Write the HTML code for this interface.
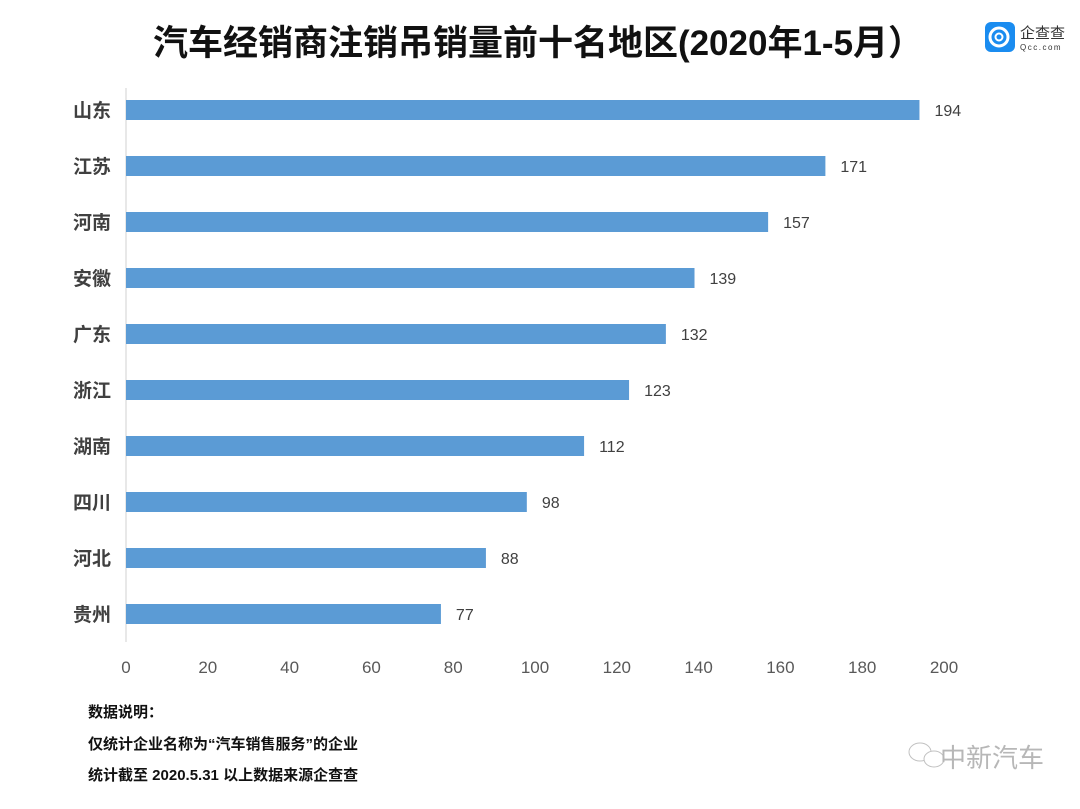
<!DOCTYPE html>
<html><head><meta charset="utf-8">
<style>
body{margin:0;background:#fff;width:1080px;height:804px;overflow:hidden;font-family:"Liberation Sans","Noto Sans CJK SC",sans-serif;}
svg text{font-family:"Liberation Sans","Noto Sans CJK SC",sans-serif;}
</style></head>
<body>
<svg id="chart" width="1080" height="804">
<text x="538" y="55" text-anchor="middle" font-size="35" font-weight="bold" fill="#111">汽车经销商注销吊销量前十名地区(2020年1-5月）</text>
<g>
<rect x="985" y="22" width="30" height="30" rx="6" fill="#1a8cf0"/>
<circle cx="999" cy="37" r="9" fill="none" stroke="#fff" stroke-width="3"/>
<circle cx="999" cy="37" r="3.5" fill="none" stroke="#fff" stroke-width="2"/>
<text x="1020" y="38" font-size="15" fill="#333">企查查</text>
<text x="1020" y="50" font-size="8" fill="#333" letter-spacing="1.5">Qcc.com</text>
</g>
<line x1="126" y1="88" x2="126" y2="642" stroke="#e0e0e0" stroke-width="1.5"/>
<g id="bars"></g>
<text x="88" y="717" font-size="15" font-weight="bold" fill="#111">数据说明：</text>
<text x="88" y="749" font-size="15" font-weight="bold" fill="#111">仅统计企业名称为“汽车销售服务”的企业</text>
<text x="88" y="780" font-size="15" font-weight="bold" fill="#111">统计截至 2020.5.31  以上数据来源企查查</text>
<g opacity="0.6">
<ellipse cx="920" cy="752" rx="11" ry="9" fill="none" stroke="#999"/>
<ellipse cx="934" cy="759" rx="10" ry="8" fill="#fff" stroke="#999"/>
<text x="940" y="767" font-size="26" fill="#888">中新汽车</text>
</g>
</svg>
<script>
const categories=["山东","江苏","河南","安徽","广东","浙江","湖南","四川","河北","贵州"];
const values=[194,171,157,139,132,123,112,98,88,77];
const ticks=[0,20,40,60,80,100,120,140,160,180,200];
const NS="http://www.w3.org/2000/svg";
const g=document.getElementById("bars");
const x0=126,x1=944,vmax=200;
function xs(v){return x0+(x1-x0)*v/vmax;}
function yc(i){return 110+56*i;}
function mk(t,a){const e=document.createElementNS(NS,t);for(const k in a)e.setAttribute(k,a[k]);g.appendChild(e);return e;}
categories.forEach((c,i)=>{
 const r=mk("rect",{x:x0,y:yc(i)-10,width:xs(values[i])-x0,height:20,fill:"#5b9bd5"});
 
 
 const l=mk("text",{x:92,y:yc(i)+7,"text-anchor":"middle","font-size":"19","font-weight":"bold",fill:"#404040"});
 l.textContent=c;
 
 
 const v=mk("text",{x:xs(values[i])+15,y:yc(i)+6,"font-size":"16",fill:"#404040"});
 v.textContent=values[i];
 
 
});
ticks.forEach(t=>{
 const e=mk("text",{x:xs(t),y:673,"text-anchor":"middle","font-size":"17",fill:"#595959"});
 e.textContent=t;
 
 
});
</script>
</body></html>
